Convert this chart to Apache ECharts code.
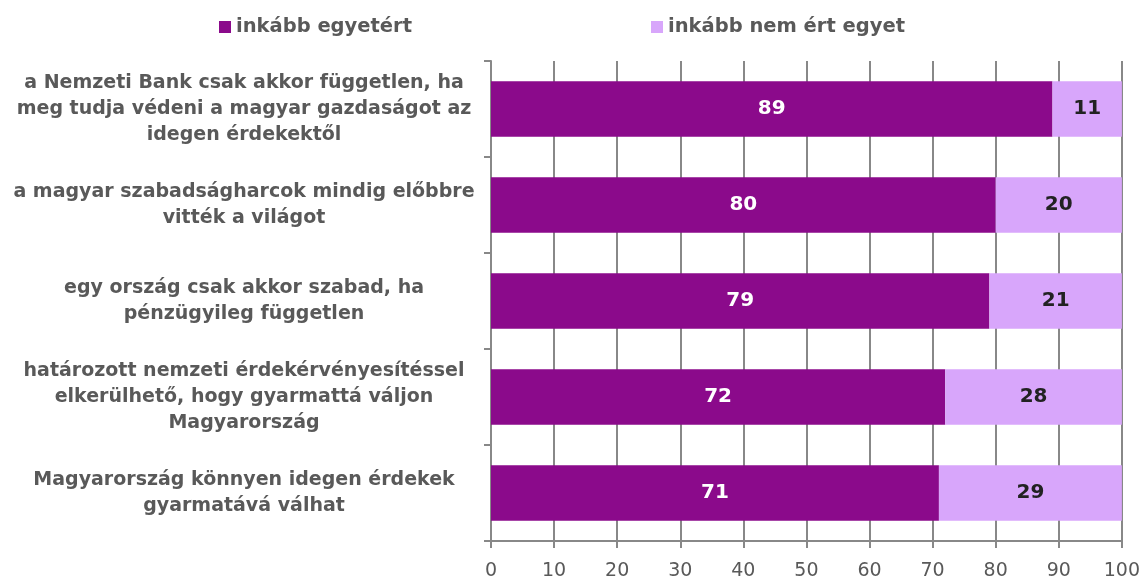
<!DOCTYPE html>
<html>
<head>
<meta charset="utf-8">
<script src="https://cdn.jsdelivr.net/npm/echarts@6/dist/echarts.min.js"></script>
<style>html,body{margin:0;padding:0;background:#fff}#c{width:1143px;height:581px}</style>
</head>
<body>
<div id="c"></div>
<script>
const categories = [
  "a Nemzeti Bank csak akkor független, ha\nmeg tudja védeni a magyar gazdaságot az\nidegen érdekektől",
  "a magyar szabadságharcok mindig előbbre\nvitték a világot",
  "egy ország csak akkor szabad, ha\npénzügyileg független",
  "határozott nemzeti érdekérvényesítéssel\nelkerülhető, hogy gyarmattá váljon\nMagyarország",
  "Magyarország könnyen idegen érdekek\ngyarmatává válhat"
];
const agree = [89, 80, 79, 72, 71];
const disagree = [11, 20, 21, 28, 29];
const seriesNames = ["inkább egyetért", "inkább nem ért egyet"];
const xTicks = [0, 10, 20, 30, 40, 50, 60, 70, 80, 90, 100];

const FONT = "DejaVu Sans";
const chart = echarts.init(document.getElementById('c'));
chart.setOption({
  animation: false,
  backgroundColor: '#fff',
  legend: {
    top: 12, left: 214, itemGap: 239,
    itemWidth: 12, itemHeight: 12, icon: 'rect',
    textStyle: {fontFamily: FONT, fontSize: 19.5, fontWeight: 'bold', color: '#595959'},
    data: seriesNames
  },
  grid: {left: 491, right: 20, top: 61, bottom: 38},
  xAxis: {
    type: 'value', min: 0, max: 100, interval: 10,
    axisLine: {show: true, lineStyle: {color: '#888', width: 2}},
    axisTick: {show: true, length: 7, lineStyle: {color: '#888', width: 2}},
    splitLine: {show: true, lineStyle: {color: '#888', width: 2}},
    axisLabel: {fontFamily: FONT, fontSize: 19, color: '#595959', margin: 21,
      formatter: v => xTicks.includes(v) ? String(v) : ''}
  },
  yAxis: {
    type: 'category', inverse: true, data: categories,
    axisLine: {show: true, lineStyle: {color: '#888', width: 2}},
    axisTick: {show: true, length: 7, lineStyle: {color: '#888', width: 2}},
    axisLabel: {
      margin: 19,
      formatter: v => v.split('\n').map(l => '{a|' + l + '}').join('\n'),
      rich: {a: {width: 456, align: 'center', fontFamily: FONT, fontSize: 19, fontWeight: 'bold', color: '#595959', lineHeight: 26}}
    }
  },
  series: [
    {
      name: seriesNames[0], type: 'bar', stack: 't', data: agree, barWidth: '58%',
      itemStyle: {color: '#8B0A8B'},
      label: {show: true, position: 'inside', color: '#fff', fontFamily: FONT, fontSize: 20, fontWeight: 'bold'}
    },
    {
      name: seriesNames[1], type: 'bar', stack: 't', data: disagree, barWidth: '58%',
      itemStyle: {color: '#D8A6FB'},
      label: {show: true, position: 'inside', color: '#222', fontFamily: FONT, fontSize: 20, fontWeight: 'bold'}
    }
  ]
});
</script>
</body>
</html>
